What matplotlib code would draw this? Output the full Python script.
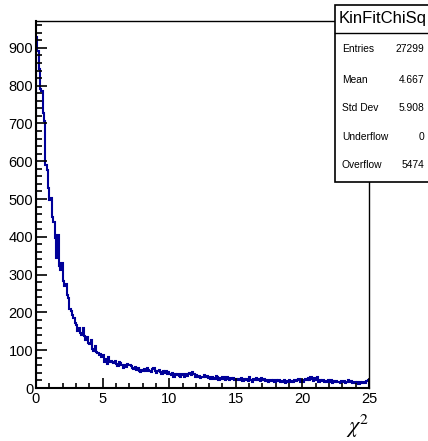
import matplotlib
matplotlib.use('Agg')
import matplotlib.pyplot as plt
from matplotlib.patches import Rectangle
from matplotlib.lines import Line2D
from matplotlib.ticker import MultipleLocator
import numpy as np

plt.rcParams['font.family'] = ['Liberation Sans', 'DejaVu Sans']
plt.rcParams['mathtext.fontset'] = 'stix'

# histogram KinFitChiSq: 250 bins from 0 to 25
nbins = 250
xmin, xmax = 0.0, 25.0
counts = [
    928, 892, 845, 790, 786, 728, 706, 590, 578, 528,
    498, 503, 452, 440, 398, 345, 405, 322, 312, 330,
    282, 270, 275, 245, 238, 208, 205, 193, 185, 172,
    168, 152, 158, 145, 140, 160, 138, 128, 135, 120,
    117, 126, 104, 98, 110, 96, 92, 88, 90, 82,
    86, 70, 78, 64, 82, 68, 72, 70, 66, 72,
    63, 58, 70, 66, 60, 52, 62, 55, 64, 60,
    62, 58, 54, 50, 55, 48, 52, 44, 42, 48,
    46, 50, 44, 52, 48, 46, 42, 50, 52, 46,
    40, 44, 48, 42, 38, 46, 40, 44, 36, 42,
    38, 34, 40, 30, 36, 34, 38, 32, 30, 36,
    34, 28, 36, 32, 38, 40, 34, 42, 36, 30,
    34, 28, 32, 26, 30, 28, 34, 30, 32, 26,
    28, 24, 30, 27, 24, 32, 28, 22, 26, 24,
    30, 25, 22, 28, 24, 20, 26, 23, 27, 22,
    25, 20, 24, 22, 26, 19, 23, 20, 24, 18,
    28, 22, 16, 25, 20, 27, 22, 24, 18, 26,
    21, 23, 18, 20, 17, 19, 22, 18, 20, 16,
    21, 18, 22, 17, 19, 15, 20, 13, 18, 16,
    21, 17, 19, 15, 22, 18, 20, 23, 17, 21,
    16, 22, 25, 20, 26, 21, 28, 24, 18, 26,
    22, 28, 16, 21, 18, 20, 15, 19, 17, 21,
    16, 20, 14, 18, 16, 19, 15, 17, 14, 19,
    16, 18, 13, 17, 20, 15, 18, 14, 12, 16,
    13, 17, 11, 15, 13, 16, 12, 14, 18, 22,
]

hist_title = 'KinFitChiSq'
stat_names = ['Entries', 'Mean', 'Std Dev', 'Underflow', 'Overflow']
stat_values = ['27299', '4.667', '5.908', '0', '5474']

W, H = 428, 441
fig = plt.figure(figsize=(W / 100, H / 100), dpi=100)

# frame in pixels: left 36, right 369, top 21, bottom 388
ax = fig.add_axes([36 / W, 1 - 388 / H, (369 - 36) / W, (388 - 21) / H])

edges = np.linspace(xmin, xmax, nbins + 1)
ax.stairs(counts, edges, color='#000099', linewidth=1.5, baseline=0)

ax.set_xlim(xmin, xmax)
ax.set_ylim(0, 971)

ax.xaxis.set_major_locator(MultipleLocator(5))
ax.xaxis.set_minor_locator(MultipleLocator(1))
ax.yaxis.set_major_locator(MultipleLocator(100))
ax.yaxis.set_minor_locator(MultipleLocator(20))

ax.tick_params(axis='both', which='both', direction='in', top=False, right=False,
               width=1.2, labelsize=10.5)
ax.tick_params(axis='y', which='major', length=8, pad=2)
ax.tick_params(axis='y', which='minor', length=4.3)
ax.tick_params(axis='x', which='major', length=7, pad=3)
ax.tick_params(axis='x', which='minor', length=3.6)

for s in ax.spines.values():
    s.set_linewidth(1.0)
ax.spines['left'].set_linewidth(1.5)
ax.spines['bottom'].set_linewidth(1.5)

fig.text(369 / W, 1 - 413 / H, r'$\chi^{2}$', ha='right', va='top', fontsize=16)

# stats box
bx0, bx1 = 335, 430
by0, bsep, by1 = 5, 33, 182
fig.add_artist(Rectangle((bx0 / W, 1 - by1 / H), (bx1 - bx0) / W, (by1 - by0) / H,
                         transform=fig.transFigure, facecolor='white',
                         edgecolor='black', linewidth=1.2, zorder=5))
fig.add_artist(Line2D([bx0 / W, bx1 / W], [1 - bsep / H, 1 - bsep / H],
                      transform=fig.transFigure, color='black', linewidth=1.0, zorder=6))
fig.text(339 / W, 1 - 19 / H, hist_title, ha='left', va='center', fontsize=12, zorder=7)

row_y = [49, 80, 108, 137, 165]
for name, val, ry in zip(stat_names, stat_values, row_y):
    fig.text(342 / W, 1 - ry / H, name, ha='left', va='center', fontsize=7.4, zorder=7)
    fig.text(424 / W, 1 - ry / H, val, ha='right', va='center', fontsize=7.4, zorder=7)

fig.savefig('out.png', dpi=100)
